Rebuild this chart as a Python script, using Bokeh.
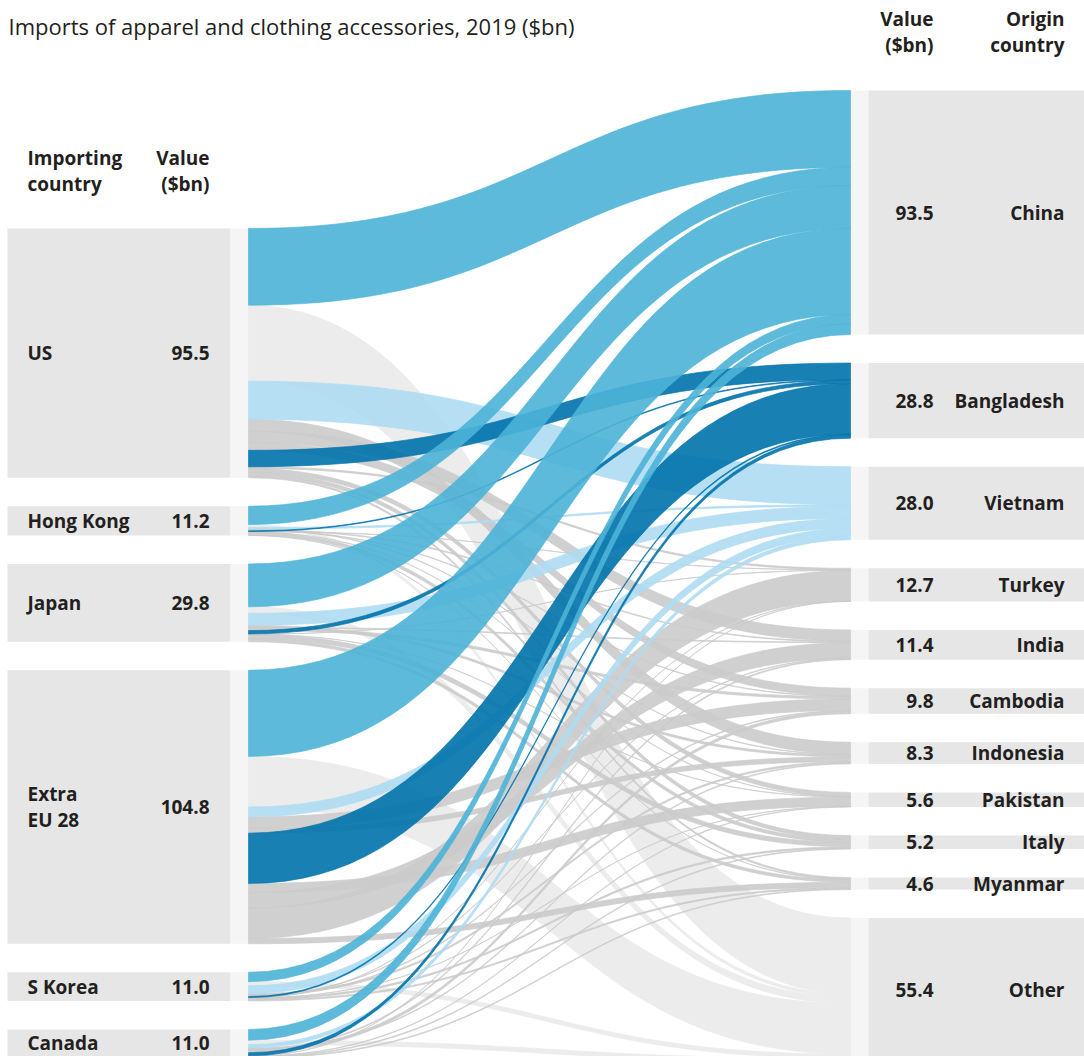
import numpy as np
from bokeh.plotting import figure
from bokeh.models import ColumnDataSource, Range1d
from bokeh.core.properties import value
from bokeh.embed import file_html
from bokeh.resources import INLINE

TITLE = "Imports of apparel and clothing accessories, 2019 ($bn)"

# Importing countries (left column) and their totals
importers = ["US", "Hong Kong", "Japan", "Extra\nEU 28", "S Korea", "Canada"]
importer_values = [95.5, 11.2, 29.8, 104.8, 11.0, 11.0]

# Origin countries (right column) and their totals
origins = ["China", "Bangladesh", "Vietnam", "Turkey", "India", "Cambodia",
           "Indonesia", "Pakistan", "Italy", "Myanmar", "Other"]
origin_values = [93.5, 28.8, 28.0, 12.7, 11.4, 9.8, 8.3, 5.6, 5.2, 4.6, 55.4]

# Flows leaving each importer, in the order they are stacked on the node
us_flows = [("China", 29.4), ("Other", 29.1), ("Vietnam", 14.6), ("Indonesia", 4.6),
            ("India", 4.3), ("Cambodia", 3.0), ("Bangladesh", 6.3), ("Turkey", 0.6),
            ("Pakistan", 1.6), ("Italy", 1.4), ("Myanmar", 0.6)]
hk_flows = [("China", 7.0), ("Other", 1.1), ("Vietnam", 0.6), ("Indonesia", 0.2),
            ("India", 0.3), ("Cambodia", 0.2), ("Bangladesh", 0.3), ("Turkey", 0.1),
            ("Pakistan", 0.1), ("Italy", 1.2), ("Myanmar", 0.1)]
japan_flows = [("China", 16.4), ("Other", 2.5), ("Vietnam", 4.6), ("Indonesia", 0.8),
               ("India", 0.3), ("Cambodia", 0.9), ("Bangladesh", 1.3), ("Turkey", 0.1),
               ("Pakistan", 0.1), ("Italy", 1.7), ("Myanmar", 1.1)]
eu_flows = [("China", 33.0), ("Other", 19.4), ("Vietnam", 3.8), ("Cambodia", 4.4),
            ("Indonesia", 1.8), ("Bangladesh", 19.3), ("Pakistan", 3.5), ("India", 5.9),
            ("Turkey", 11.7), ("Myanmar", 2.0)]
korea_flows = [("China", 3.6), ("Other", 1.6), ("Vietnam", 3.0), ("Indonesia", 0.6),
               ("India", 0.2), ("Cambodia", 0.3), ("Bangladesh", 0.4), ("Turkey", 0.1),
               ("Pakistan", 0.1), ("Italy", 0.6), ("Myanmar", 0.5)]
canada_flows = [("China", 4.1), ("Other", 1.7), ("Vietnam", 1.4), ("Indonesia", 0.3),
                ("India", 0.4), ("Cambodia", 1.0), ("Bangladesh", 1.2), ("Turkey", 0.1),
                ("Pakistan", 0.2), ("Italy", 0.3), ("Myanmar", 0.3)]
importer_flows = [us_flows, hk_flows, japan_flows, eu_flows, korea_flows, canada_flows]

# ---- layout (pixel space, y grows downward) ----
W, H = 1084, 1056
PX_PER_BN = 2.61
GAP = 28.5
LEFT_TOP, RIGHT_TOP = 228, 90
FLOW_X0, FLOW_X1 = 248, 850
LBOX = (7, 230)
LSTRIP = (230, 248)
RSTRIP = (850, 868)
RBOX = (868, 1084)

COL_CHINA = "#4cb3d7"
COL_BANGLA = "#0072ab"
COL_VIET = "#aedcf3"
COL_GREY = "#cbcbcb"
COL_OTHER = "#eaeaea"
TEXT_COL = "#231f20"
FONT = "Open Sans"


def stack(values, top):
    ys, y = [], top
    for v in values:
        ys.append((y, y + v * PX_PER_BN))
        y += v * PX_PER_BN + GAP
    return ys


left_nodes = stack(importer_values, LEFT_TOP)
right_nodes = stack(origin_values, RIGHT_TOP)


def flow_colour(target):
    if target == "China":
        return COL_CHINA
    if target == "Bangladesh":
        return COL_BANGLA
    if target == "Vietnam":
        return COL_VIET
    if target == "Other":
        return COL_OTHER
    return COL_GREY


# drawing layers: light grey at the back, China blue on top
layer_of = {COL_OTHER: 0, COL_GREY: 1, COL_VIET: 2, COL_BANGLA: 3, COL_CHINA: 4}

src_off = [n[0] for n in left_nodes]
tgt_off = {o: right_nodes[i][0] for i, o in enumerate(origins)}

t = np.linspace(0, 1, 48)
xm = (FLOW_X0 + FLOW_X1) / 2.0
bx = (1 - t) ** 3 * FLOW_X0 + 3 * (1 - t) ** 2 * t * xm + 3 * (1 - t) * t ** 2 * xm + t ** 3 * FLOW_X1


def curve(y0, y1):
    return (1 - t) ** 3 * y0 + 3 * (1 - t) ** 2 * t * y0 + 3 * (1 - t) * t ** 2 * y1 + t ** 3 * y1


# on the origin side, incoming flows are stacked in importer order
target_slots = {}
for tgt in origins:
    for si, flows in enumerate(importer_flows):
        for name, v in flows:
            if name == tgt:
                target_slots[(si, tgt)] = (tgt_off[tgt], tgt_off[tgt] + v * PX_PER_BN)
                tgt_off[tgt] += v * PX_PER_BN

patches = []
for si, flows in enumerate(importer_flows):
    for tgt, v in flows:
        h = v * PX_PER_BN
        s0, s1 = src_off[si], src_off[si] + h
        src_off[si] = s1
        t0, t1 = target_slots[(si, tgt)]
        top = curve(s0, t0)
        bot = curve(s1, t1)
        xs = np.concatenate([bx, bx[::-1]])
        ys = np.concatenate([top, bot[::-1]])
        col = flow_colour(tgt)
        patches.append((layer_of[col], si, xs.tolist(), ys.tolist(), col))

patches.sort(key=lambda q: (q[0], q[1]))

p = figure(width=W, height=H, output_backend="svg", toolbar_location=None,
           x_range=Range1d(0, W), y_range=Range1d(H, 0),
           x_axis_location=None, y_axis_location=None, min_border=0)
p.grid.visible = False
p.outline_line_color = None
p.background_fill_color = "white"
p.border_fill_color = "white"

# node label boxes and strips
lt = [n[0] for n in left_nodes]
lb = [n[1] for n in left_nodes]
rt = [n[0] for n in right_nodes]
rb = [n[1] for n in right_nodes]
p.quad(left=LBOX[0], right=LBOX[1], top=lt, bottom=lb, fill_color="#e6e6e6", line_color=None)
p.quad(left=LSTRIP[0], right=LSTRIP[1], top=lt, bottom=lb, fill_color="#f5f5f5", line_color=None)
p.quad(left=RSTRIP[0], right=RSTRIP[1], top=rt, bottom=rb, fill_color="#f5f5f5", line_color=None)
p.quad(left=RBOX[0], right=RBOX[1], top=rt, bottom=rb, fill_color="#e6e6e6", line_color=None)

flow_src = ColumnDataSource(dict(
    xs=[q[2] for q in patches], ys=[q[3] for q in patches], c=[q[4] for q in patches]))
p.patches("xs", "ys", source=flow_src, fill_color="c", fill_alpha=0.9,
          line_color="c", line_alpha=0.9, line_width=0.7)


def add_text(xs, ys, texts, align="left", size="19px", bold=True, baseline="middle"):
    src = ColumnDataSource(dict(x=xs, y=ys, text=texts))
    p.text("x", "y", text="text", source=src, text_font=value(FONT),
           text_font_size=size, text_font_style="bold" if bold else "normal",
           text_align=align, text_baseline=baseline, text_color=TEXT_COL)


LINE_H = 26

# title
add_text([8], [25], [TITLE], size="22px", bold=False)

# column headers
add_text([27, 27], [157, 157 + LINE_H], ["Importing", "country"])
add_text([209, 209], [157, 157 + LINE_H], ["Value", "($bn)"], align="right")
add_text([933, 933], [18, 18 + LINE_H], ["Value", "($bn)"], align="right")
add_text([1064, 1064], [18, 18 + LINE_H], ["Origin", "country"], align="right")

# left labels
nx, ny, nt, vx, vy, vt = [], [], [], [], [], []
for name, val, (a, b) in zip(importers, importer_values, left_nodes):
    c = min((a + b) / 2, H - 14)
    lines = name.split("\n")
    for k, ln in enumerate(lines):
        nx.append(27)
        ny.append(c + (k - (len(lines) - 1) / 2) * LINE_H)
        nt.append(ln)
    vx.append(209)
    vy.append(c)
    vt.append(f"{val:.1f}")
add_text(nx, ny, nt)
add_text(vx, vy, vt, align="right")

# right labels
rc = [(a + b) / 2 for a, b in right_nodes]
add_text([933] * len(origins), rc, [f"{v:.1f}" for v in origin_values], align="right")
add_text([1064] * len(origins), rc, origins, align="right")

open("out.html", "w").write(file_html(p, INLINE))
